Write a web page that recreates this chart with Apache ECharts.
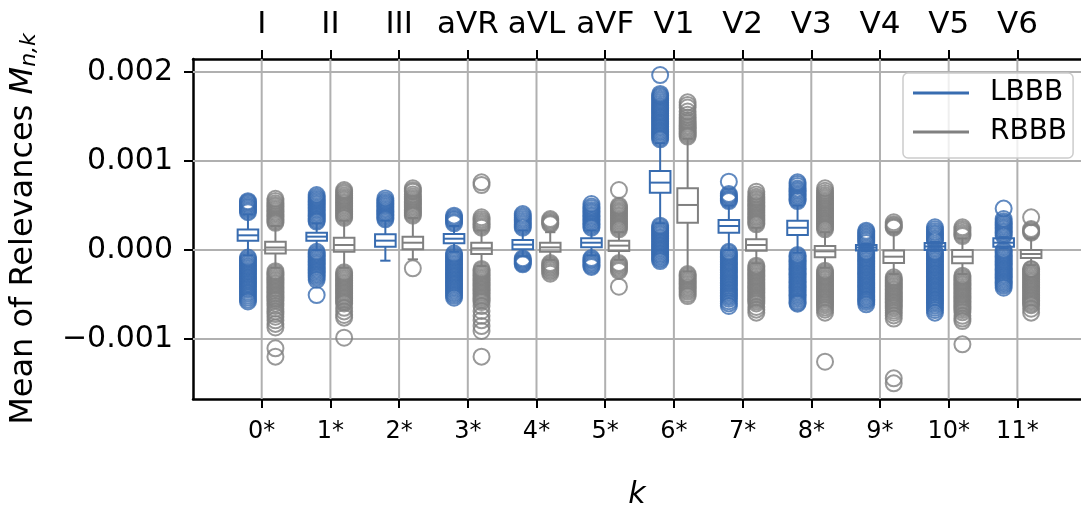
<!DOCTYPE html>
<html>
<head>
<meta charset="utf-8">
<script src="https://cdn.jsdelivr.net/npm/echarts@6/dist/echarts.min.js"></script>
<style>
  html, body { margin: 0; padding: 0; background: #ffffff; }
  #chart { width: 1081px; height: 510px; }
</style>
</head>
<body>
<div id="chart"></div>
<script>
// All relevance values below are given in units of 10^-3.
const SCALE = 1e-3;

const categories = ['0*', '1*', '2*', '3*', '4*', '5*', '6*', '7*', '8*', '9*', '10*', '11*'];
const leads = ['I', 'II', 'III', 'aVR', 'aVL', 'aVF', 'V1', 'V2', 'V3', 'V4', 'V5', 'V6'];
const yTicks = [-0.001, 0, 0.001, 0.002];

// [lower whisker, Q1, median, Q3, upper whisker] per lead
const lbbbBoxes = [
  [-0.06, 0.105, 0.165, 0.23, 0.40],
  [0.0, 0.104, 0.15, 0.194, 0.30],
  [-0.12, 0.037, 0.105, 0.176, 0.33],
  [-0.02, 0.075, 0.127, 0.18, 0.27],
  [-0.07, 0.008, 0.06, 0.112, 0.22],
  [-0.06, 0.03, 0.082, 0.131, 0.22],
  [0.30, 0.644, 0.757, 0.888, 1.2],
  [0.0, 0.194, 0.27, 0.337, 0.5],
  [-0.03, 0.169, 0.25, 0.33, 0.5],
  [-0.01, -0.005, 0.028, 0.056, 0.07],
  [-0.01, 0.0, 0.04, 0.08, 0.09],
  [0.02, 0.037, 0.082, 0.131, 0.145]
];
const rbbbBoxes = [
  [-0.2, -0.04, 0.028, 0.093, 0.27],
  [-0.2, -0.019, 0.056, 0.138, 0.33],
  [-0.105, 0.008, 0.082, 0.15, 0.36],
  [-0.18, -0.045, 0.019, 0.082, 0.22],
  [-0.11, -0.019, 0.03, 0.082, 0.2],
  [-0.11, -0.011, 0.049, 0.105, 0.2],
  [-0.24, 0.307, 0.506, 0.693, 1.25],
  [-0.15, -0.007, 0.056, 0.12, 0.25],
  [-0.2, -0.082, -0.015, 0.045, 0.2],
  [-0.27, -0.145, -0.075, -0.005, 0.2],
  [-0.27, -0.15, -0.075, 0.0, 0.13],
  [-0.17, -0.09, -0.045, 0.0, 0.13]
];

// Outliers (fliers) per lead
const lbbbOutliers = [
  [0.425, 0.44, 0.458, 0.474, 0.49, 0.507, 0.522, 0.537, 0.548,
   -0.085, -0.103, -0.121, -0.138, -0.157, -0.176, -0.193, -0.211, -0.23, -0.248, -0.266, -0.284, -0.303,
   -0.321, -0.339, -0.357, -0.376, -0.394, -0.412, -0.43, -0.447, -0.47, -0.49, -0.512, -0.535, -0.558, -0.578],
  [0.32, 0.335, 0.352, 0.37, 0.387, 0.405, 0.422, 0.44, 0.457, 0.475, 0.492, 0.51, 0.528, 0.545, 0.562,
   0.58, 0.597, 0.618,
   -0.02, -0.038, -0.056, -0.074, -0.092, -0.11, -0.128, -0.146, -0.164, -0.182, -0.2, -0.218, -0.236,
   -0.254, -0.272, -0.29, -0.31, -0.335, -0.506],
  [0.345, 0.362, 0.38, 0.397, 0.415, 0.432, 0.45, 0.467, 0.485, 0.502, 0.52, 0.537, 0.555, 0.58],
  [0.30, 0.318, 0.336, 0.352, 0.368, 0.386,
   -0.04, -0.058, -0.076, -0.094, -0.112, -0.13, -0.148, -0.166, -0.184, -0.202, -0.22, -0.238, -0.256,
   -0.274, -0.292, -0.31, -0.328, -0.346, -0.364, -0.382, -0.40, -0.418, -0.436, -0.455, -0.475, -0.495,
   -0.515, -0.536],
  [0.25, 0.268, 0.286, 0.305, 0.325, 0.345, 0.365, 0.385, 0.404,
   -0.094, -0.108, -0.122, -0.136, -0.15, -0.161],
  [0.25, 0.268, 0.286, 0.304, 0.322, 0.34, 0.358, 0.376, 0.394, 0.412, 0.43, 0.448, 0.468, 0.49, 0.517,
   -0.09, -0.106, -0.122, -0.14, -0.158, -0.175, -0.191],
  [1.244, 1.262, 1.281, 1.298, 1.317, 1.334, 1.352, 1.371, 1.388, 1.406, 1.425, 1.442, 1.46, 1.479, 1.496,
   1.514, 1.533, 1.55, 1.568, 1.587, 1.604, 1.622, 1.641, 1.66, 1.68, 1.7, 1.72, 1.735, 1.753, 1.966,
   0.273, 0.255, 0.236, 0.219, 0.2, 0.183, 0.165, 0.146, 0.129, 0.111, 0.092, 0.075, 0.057, 0.038, 0.021,
   0.003, -0.015, -0.034, -0.051, -0.069, -0.088, -0.105, -0.124],
  [0.55, 0.565, 0.58, 0.597, 0.613, 0.629, 0.768,
   -0.02, -0.037, -0.055, -0.074, -0.091, -0.11, -0.128, -0.145, -0.164, -0.182, -0.2, -0.218, -0.237,
   -0.254, -0.273, -0.291, -0.31, -0.327, -0.346, -0.364, -0.382, -0.4, -0.419, -0.437, -0.455, -0.474,
   -0.492, -0.51, -0.528, -0.547, -0.575, -0.6, -0.629],
  [0.55, 0.567, 0.585, 0.603, 0.62, 0.638, 0.656, 0.674, 0.692, 0.72, 0.742, 0.76,
   -0.056, -0.074, -0.092, -0.111, -0.129, -0.147, -0.165, -0.184, -0.202, -0.22, -0.238, -0.257, -0.275,
   -0.293, -0.311, -0.33, -0.348, -0.366, -0.384, -0.403, -0.421, -0.439, -0.457, -0.476, -0.494, -0.512,
   -0.53, -0.55, -0.572, -0.59, -0.603],
  [0.08, 0.097, 0.114, 0.131, 0.148, 0.165, 0.182, 0.2, 0.217,
   -0.02, -0.038, -0.056, -0.075, -0.093, -0.111, -0.129, -0.148, -0.166, -0.184, -0.202, -0.221, -0.239,
   -0.257, -0.275, -0.294, -0.312, -0.33, -0.348, -0.367, -0.385, -0.403, -0.421, -0.44, -0.458, -0.476,
   -0.494, -0.513, -0.531, -0.55, -0.565, -0.585, -0.61],
  [0.1, 0.118, 0.136, 0.155, 0.173, 0.192, 0.21, 0.232, 0.255,
   -0.02, -0.038, -0.056, -0.075, -0.093, -0.111, -0.129, -0.148, -0.166, -0.184, -0.202, -0.221, -0.239,
   -0.257, -0.275, -0.294, -0.312, -0.33, -0.348, -0.367, -0.385, -0.403, -0.421, -0.44, -0.458, -0.476,
   -0.494, -0.513, -0.531, -0.55, -0.568, -0.586, -0.605, -0.625, -0.65, -0.675, -0.704],
  [0.16, 0.178, 0.196, 0.214, 0.232, 0.25, 0.268, 0.287, 0.305, 0.323, 0.348, 0.465,
   0.0, -0.018, -0.036, -0.055, -0.073, -0.091, -0.109, -0.128, -0.146, -0.164, -0.182, -0.201, -0.219,
   -0.237, -0.255, -0.274, -0.292, -0.31, -0.328, -0.347, -0.365, -0.383, -0.401, -0.424]
];
const rbbbOutliers = [
  [0.305, 0.322, 0.34, 0.358, 0.377, 0.395, 0.414, 0.432, 0.451, 0.469, 0.488, 0.505, 0.525, 0.55, 0.575,
   -0.238, -0.256, -0.275, -0.293, -0.312, -0.33, -0.349, -0.367, -0.386, -0.404, -0.423, -0.441, -0.46,
   -0.478, -0.497, -0.515, -0.534, -0.552, -0.571, -0.6, -0.63, -0.66, -0.69, -0.72, -0.75, -0.79, -0.83,
   -0.87, -1.105, -1.198],
  [0.36, 0.378, 0.396, 0.414, 0.432, 0.45, 0.468, 0.486, 0.504, 0.522, 0.54, 0.558, 0.576, 0.594, 0.612,
   0.635, 0.655, 0.674,
   -0.25, -0.268, -0.287, -0.305, -0.324, -0.342, -0.361, -0.379, -0.398, -0.416, -0.435, -0.453, -0.472,
   -0.49, -0.509, -0.527, -0.546, -0.565, -0.583, -0.6, -0.65, -0.69, -0.73, -0.76, -0.985],
  [0.385, 0.402, 0.42, 0.438, 0.456, 0.474, 0.492, 0.51, 0.528, 0.546, 0.564, 0.582, 0.6, 0.625, 0.655,
   0.672, 0.693, -0.206],
  [0.25, 0.268, 0.286, 0.305, 0.325, 0.345, 0.367, 0.73, 0.76,
   -0.213, -0.231, -0.25, -0.268, -0.287, -0.305, -0.324, -0.342, -0.361, -0.379, -0.398, -0.416, -0.435,
   -0.453, -0.472, -0.49, -0.509, -0.527, -0.546, -0.565, -0.585, -0.63, -0.685, -0.74, -0.79, -0.854,
   -0.91, -1.198],
  [0.289, 0.302, 0.316, 0.332, 0.348,
   -0.146, -0.162, -0.178, -0.194, -0.21, -0.228, -0.246, -0.266],
  [0.232, 0.25, 0.268, 0.286, 0.304, 0.322, 0.34, 0.358, 0.376, 0.394, 0.412, 0.43, 0.448, 0.466, 0.482,
   0.498, 0.674,
   -0.146, -0.162, -0.18, -0.2, -0.218, -0.236, -0.412],
  [1.275, 1.292, 1.31, 1.328, 1.346, 1.364, 1.382, 1.4, 1.42, 1.44, 1.46, 1.49, 1.52, 1.555, 1.6, 1.63, 1.659,
   -0.27, -0.287, -0.304, -0.322, -0.34, -0.358, -0.376, -0.394, -0.412, -0.43, -0.45, -0.47, -0.495, -0.517],
  [0.289, 0.306, 0.324, 0.343, 0.361, 0.379, 0.397, 0.416, 0.434, 0.452, 0.47, 0.489, 0.507, 0.525, 0.543,
   0.562, 0.58, 0.598, 0.625, 0.655,
   -0.176, -0.194, -0.213, -0.231, -0.249, -0.268, -0.286, -0.304, -0.322, -0.341, -0.359, -0.377, -0.396,
   -0.414, -0.432, -0.451, -0.469, -0.487, -0.505, -0.524, -0.542, -0.56, -0.578, -0.6, -0.64, -0.67, -0.704],
  [0.232, 0.25, 0.268, 0.287, 0.305, 0.323, 0.341, 0.36, 0.378, 0.396, 0.414, 0.433, 0.451, 0.469, 0.487,
   0.506, 0.524, 0.542, 0.56, 0.579, 0.597, 0.617, 0.64, 0.665, 0.693,
   -0.232, -0.25, -0.268, -0.287, -0.305, -0.323, -0.341, -0.36, -0.378, -0.396, -0.414, -0.433, -0.451,
   -0.469, -0.487, -0.506, -0.524, -0.542, -0.56, -0.58, -0.6, -0.62, -0.645, -0.67, -0.704, -1.255],
  [0.25, 0.262, 0.275, 0.29, 0.311,
   -0.307, -0.325, -0.343, -0.361, -0.379, -0.398, -0.416, -0.434, -0.452, -0.471, -0.489,
   -0.507, -0.525, -0.544, -0.562, -0.58, -0.598, -0.617, -0.635, -0.655, -0.68, -0.705, -0.735, -0.77,
   -1.442, -1.498],
  [0.157, 0.175, 0.195, 0.215, 0.236, 0.255,
   -0.289, -0.306, -0.324, -0.343, -0.361, -0.379, -0.397, -0.416, -0.434, -0.452, -0.47, -0.489, -0.507,
   -0.525, -0.543, -0.562, -0.58, -0.598, -0.616, -0.635, -0.653, -0.675, -0.7, -0.74, -0.77, -0.798, -1.06],
  [0.194, 0.207, 0.221, 0.236, 0.367,
   -0.213, -0.22, -0.239, -0.257, -0.275, -0.293, -0.312, -0.33, -0.348, -0.366, -0.385, -0.403,
   -0.421, -0.439, -0.458, -0.476, -0.494, -0.512, -0.531, -0.549, -0.567, -0.585, -0.604, -0.62, -0.66, -0.704]
];

const BLUE = '#386cb0';
const GRAY = '#808080';
const FONT = 'DejaVu Sans';
const OFFSET = 0.2;   // horizontal shift of each group from the lead position
const BOX_W = 0.3;    // box width in axis units
const X_MIN = -1, X_MAX = 11.926;
const Y_MIN = -0.001674, Y_MAX = 0.002146;
const tickIdx = categories.map((_, i) => i);

function boxData(boxes, off) {
  return boxes.map((b, i) => [i + off].concat(b.map(v => v * SCALE)));
}
function flierData(outs, off) {
  const d = [];
  outs.forEach((arr, i) => arr.forEach(v => d.push([i + off, v * SCALE])));
  return d;
}

function boxRenderer(color) {
  return function (params, api) {
    const x = api.value(0);
    const low = api.coord([x, api.value(1)]);
    const q1 = api.coord([x, api.value(2)]);
    const med = api.coord([x, api.value(3)]);
    const q3 = api.coord([x, api.value(4)]);
    const high = api.coord([x, api.value(5)]);
    const half = api.size([BOX_W, 0])[0] / 2;
    const cap = half / 2;
    const cx = q1[0];
    const st = { stroke: color, lineWidth: 2, fill: null };
    return {
      type: 'group',
      children: [
        { type: 'line', shape: { x1: cx, y1: q3[1], x2: cx, y2: high[1] }, style: st },
        { type: 'line', shape: { x1: cx, y1: q1[1], x2: cx, y2: low[1] }, style: st },
        { type: 'line', shape: { x1: cx - cap, y1: high[1], x2: cx + cap, y2: high[1] }, style: st },
        { type: 'line', shape: { x1: cx - cap, y1: low[1], x2: cx + cap, y2: low[1] }, style: st },
        { type: 'rect', shape: { x: cx - half, y: q3[1], width: 2 * half, height: q1[1] - q3[1] },
          style: { stroke: color, lineWidth: 2, fill: 'rgba(0,0,0,0)' } },
        { type: 'line', shape: { x1: cx - half, y1: med[1], x2: cx + half, y2: med[1] }, style: st }
      ]
    };
  };
}

// Grid lines: vertical at every lead, horizontal at every y tick
const gridLines = tickIdx.map(i => [0, i]).concat(yTicks.map(v => [1, v]));

const chart = echarts.init(document.getElementById('chart'), null, { renderer: 'canvas' });

const xAxisCommon = {
  type: 'value',
  min: X_MIN,
  max: X_MAX,
  interval: 1,
  splitLine: { show: false },
  axisLine: { show: true, onZero: false, lineStyle: { color: '#000', width: 2.5 } },
  axisTick: { show: true, customValues: tickIdx, length: 9, lineStyle: { color: '#000', width: 2 } }
};

chart.setOption({
  animation: false,
  backgroundColor: '#ffffff',
  textStyle: { fontFamily: FONT },
  grid: { left: 193, right: 0, top: 59, bottom: 111, containLabel: false, outerBoundsMode: 'none' },
  legend: {
    left: 903,
    top: 73,
    orient: 'vertical',
    itemWidth: 56,
    itemHeight: 3,
    itemGap: 9,
    padding: [5, 6, 11, 10],
    backgroundColor: 'rgba(255,255,255,0.8)',
    borderColor: '#cccccc',
    borderWidth: 1.5,
    borderRadius: 5,
    textStyle: { fontFamily: FONT, fontSize: 28, lineHeight: 30, color: '#000', padding: [0, 0, 0, 16] },
    data: [
      { name: 'LBBB', icon: 'rect', itemStyle: { color: BLUE } },
      { name: 'RBBB', icon: 'rect', itemStyle: { color: GRAY } }
    ]
  },
  xAxis: [
    Object.assign({}, xAxisCommon, {
      position: 'bottom',
      axisLabel: {
        customValues: tickIdx,
        formatter: v => categories[Math.round(v)] || '',
        fontFamily: FONT, fontSize: 24, color: '#000', margin: 21
      },
      name: 'k',
      nameLocation: 'middle',
      nameGap: 81,
      nameTextStyle: { fontFamily: FONT, fontSize: 30, fontStyle: 'italic', color: '#000' }
    }),
    Object.assign({}, xAxisCommon, {
      position: 'top',
      axisLabel: {
        customValues: tickIdx,
        formatter: v => leads[Math.round(v)] || '',
        fontFamily: FONT, fontSize: 31, color: '#000', margin: 19
      }
    })
  ],
  yAxis: {
    type: 'value',
    min: Y_MIN,
    max: Y_MAX,
    splitLine: { show: false },
    axisLine: { show: true, onZero: false, lineStyle: { color: '#000', width: 2.5 } },
    axisTick: { show: true, customValues: yTicks, length: 9, lineStyle: { color: '#000', width: 2 } },
    axisLabel: {
      customValues: yTicks,
      formatter: v => (v < 0 ? '\u2212' : '') + Math.abs(v).toFixed(3),
      fontFamily: FONT, fontSize: 30, color: '#000', margin: 20
    },
    name: 'Mean of Relevances {m|M}{s|n,k}',
    nameLocation: 'middle',
    nameGap: 153,
    nameRotate: 90,
    nameTextStyle: {
      fontFamily: FONT, fontSize: 32, color: '#000',
      rich: {
        m: { fontFamily: FONT, fontSize: 32, fontStyle: 'italic', color: '#000' },
        s: { fontFamily: FONT, fontSize: 22, fontStyle: 'italic', color: '#000',
             verticalAlign: 'bottom', lineHeight: 14 }
      }
    }
  },
  series: [
    {
      name: 'grid',
      type: 'custom',
      silent: true,
      z: 1,
      data: gridLines,
      renderItem: function (params, api) {
        const cs = params.coordSys;
        const kind = api.value(0);
        const v = api.value(1);
        const st = { stroke: '#b0b0b0', lineWidth: 2 };
        if (kind === 0) {
          const px = api.coord([v, 0])[0];
          return { type: 'line', shape: { x1: px, y1: cs.y, x2: px, y2: cs.y + cs.height }, style: st };
        }
        const py = api.coord([0, v])[1];
        return { type: 'line', shape: { x1: cs.x, y1: py, x2: cs.x + cs.width, y2: py }, style: st };
      }
    },
    {
      name: 'LBBB',
      type: 'custom',
      z: 2,
      itemStyle: { color: BLUE },
      data: boxData(lbbbBoxes, -OFFSET),
      encode: { x: 0, y: [1, 2, 3, 4, 5] },
      renderItem: boxRenderer(BLUE)
    },
    {
      name: 'LBBB',
      type: 'scatter',
      z: 3,
      symbol: 'circle',
      symbolSize: 16,
      itemStyle: { color: 'rgba(0,0,0,0)', borderColor: BLUE, borderWidth: 2 },
      data: flierData(lbbbOutliers, -OFFSET)
    },
    {
      name: 'RBBB',
      type: 'custom',
      z: 4,
      itemStyle: { color: GRAY },
      data: boxData(rbbbBoxes, OFFSET),
      encode: { x: 0, y: [1, 2, 3, 4, 5] },
      renderItem: boxRenderer(GRAY)
    },
    {
      name: 'RBBB',
      type: 'scatter',
      z: 5,
      symbol: 'circle',
      symbolSize: 16,
      itemStyle: { color: 'rgba(0,0,0,0)', borderColor: GRAY, borderWidth: 2 },
      data: flierData(rbbbOutliers, OFFSET)
    }
  ]
});
</script>
</body>
</html>
